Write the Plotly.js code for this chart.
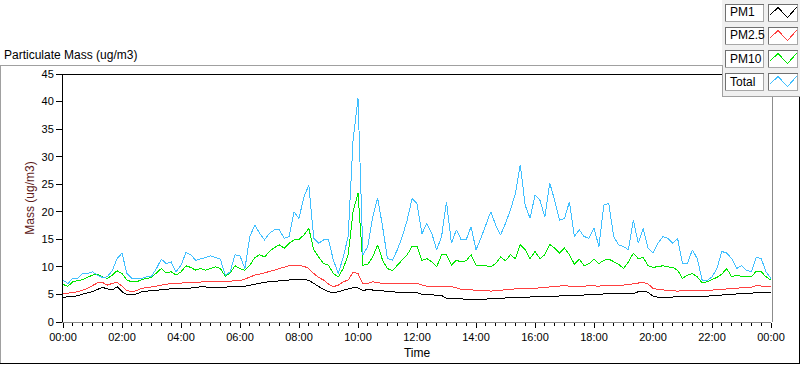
<!DOCTYPE html>
<html><head><meta charset="utf-8">
<script src="https://cdn.plot.ly/plotly-3.0.1.min.js"></script>
<style>html,body{margin:0;padding:0;background:#fff;overflow:hidden}#chart{width:800px;height:365px}
#chart .scatterlayer path.js-line{shape-rendering:crispEdges}
#chart .shapelayer path{shape-rendering:crispEdges}</style>
</head><body><div id="chart"></div>
<script>
// ---- data (one sample every 10 minutes, 00:00 .. 24:00) ----
const seriesNames = ['PM1', 'PM2.5', 'PM10', 'Total'];
const sampleStepMinutes = 10;
const tickLabelsEvery2h = ['00:00','02:00','04:00','06:00','08:00','10:00','12:00','14:00','16:00','18:00','20:00','22:00','00:00'];

const pm1 = [
 4.5,4.5,4.6,4.8,5.1,5.3, 5.5,5.9,6.3,6.0,5.8,6.4, 5.5,5.0,4.9,5.1,5.5,5.6, 5.7,5.8,5.9,6.0,6.1,6.1,
 6.1,6.1,6.2,6.2,6.4,6.3, 6.3,6.3,6.3,6.3,6.3,6.3, 6.4,6.5,6.7,6.9,7.1,7.2, 7.3,7.4,7.5,7.5,7.6,7.7,
 7.7,7.7,7.6,7.0,6.4,5.9, 5.5,5.3,5.5,5.8,6.0,6.2, 6.2,5.7,5.9,5.8,5.7,5.6, 5.5,5.5,5.4,5.4,5.3,5.3,
 5.3,5.0,5.0,4.9,4.9,4.8, 4.3,4.3,4.2,4.2,4.1,4.1, 4.1,4.1,4.1,4.1,4.2,4.3, 4.4,4.4,4.5,4.5,4.5,4.5,
 4.5,4.5,4.6,4.6,4.7,4.7, 4.7,4.7,4.8,4.8,4.9,4.9, 5.0,5.0,5.1,5.1,5.1,5.1, 5.1,5.1,5.1,5.5,5.6,5.4,
 4.7,4.5,4.5,4.5,4.5,4.5, 4.5,4.6,4.6,4.6,4.6,4.7, 4.7,4.8,4.9,4.9,5.0,5.1, 5.2,5.2,5.2,5.4,5.3,5.4,
 5.4];
const pm25 = [
 5.2,5.2,5.3,5.5,5.8,6.1, 6.6,7.1,7.2,6.7,7.0,7.2, 6.5,5.7,5.5,5.7,6.1,6.2, 6.4,6.5,6.7,6.9,7.0,7.0,
 7.1,7.1,7.2,7.2,7.3,7.3, 7.3,7.3,7.3,7.4,7.4,7.5, 7.5,7.8,8.2,8.5,8.7,8.9, 9.1,9.4,9.7,10.0,10.2,10.3,
 10.3,10.1,9.7,8.8,8.1,7.6, 6.9,6.4,6.7,7.3,7.6,9.0, 8.8,6.9,7.0,7.3,7.1,7.0, 7.0,7.0,6.9,6.9,7.0,7.0,
 7.0,6.7,6.5,6.5,6.5,6.5, 6.4,6.4,6.2,5.9,5.9,5.8, 5.8,5.7,5.7,5.6,5.7,5.8, 5.9,6.0,6.0,6.0,6.0,6.0,
 6.1,6.2,6.3,6.4,6.5,6.6, 6.6,6.5,6.5,6.4,6.5,6.6, 6.5,6.5,6.6,6.6,6.7,6.7, 6.7,6.8,6.9,7.1,7.2,6.9,
 6.1,5.9,5.8,5.7,5.6,5.6, 5.7,5.7,5.7,5.6,5.6,5.7, 5.8,5.8,5.9,6.0,6.1,6.1, 6.2,6.2,6.3,6.6,6.5,6.4,
 6.4];
const pm10 = [
 6.8,6.5,7.3,7.5,7.7,8.1, 8.5,8.7,8.2,7.9,8.5,9.3, 8.8,7.6,7.3,7.3,7.7,7.9, 8.1,8.9,9.7,8.9,9.1,8.5,
 9.1,10.2,9.9,9.4,9.7,9.4, 9.7,10.0,9.7,8.3,8.9,10.2, 9.7,9.4,10.3,11.7,12.2,11.8, 12.8,13.5,14.0,13.4,14.3,14.9,
 15.0,15.8,17.0,13.1,11.8,10.6, 10.3,8.8,8.2,9.7,12.2,20.0, 23.4,10.3,10.5,11.8,14.0,11.2, 9.7,9.3,10.3,11.2,12.2,13.7,
 13.7,11.2,11.5,10.9,10.0,12.2, 12.2,10.3,11.2,10.9,11.1,12.2, 10.3,10.2,10.2,10.0,10.6,11.8, 11.1,12.2,11.5,14.0,13.1,11.5,
 12.8,11.5,12.2,14.1,13.4,12.5, 13.4,12.2,10.5,11.4,10.2,10.6, 11.4,10.6,11.2,11.4,10.9,10.5, 9.7,10.9,12.5,11.5,11.7,10.2,
 9.9,10.0,10.2,10.0,9.9,9.4, 7.9,8.5,8.8,8.2,7.1,7.3, 7.7,8.1,8.7,9.7,8.2,8.5, 8.3,8.2,8.2,9.2,9.1,8.2,
 7.6];
const total = [
 7.6,7.0,7.9,7.9,8.8,8.8, 9.1,8.5,8.1,8.2,9.3,11.5, 12.5,8.8,7.9,7.9,7.9,8.2, 8.3,9.7,11.4,10.6,10.9,9.1,
 10.3,12.6,12.2,11.2,11.4,11.7, 12.0,11.7,11.4,8.5,9.1,12.2, 12.0,9.7,15.5,17.6,16.1,14.9, 16.1,16.7,16.7,15.2,15.5,20.0,
 18.8,22.7,24.8,15.2,14.3,14.9, 14.9,11.2,8.8,11.8,15.5,33.0, 40.6,12.2,13.7,19.1,22.5,17.3, 11.5,11.2,13.1,15.5,18.5,22.4,
 21.5,16.0,17.9,16.1,13.1,15.5, 21.8,14.3,16.7,14.9,14.9,17.3, 13.1,15.2,17.6,20.0,17.6,15.8, 17.9,20.3,23.3,28.5,21.2,18.8,
 23.0,22.1,19.1,25.2,22.1,18.5, 18.8,21.8,15.5,16.7,15.5,15.2, 17.0,13.7,21.2,21.5,15.5,14.0, 13.7,13.1,18.5,14.3,17.0,13.4,
 12.5,14.3,15.5,15.2,14.3,15.2, 10.6,10.6,13.1,11.5,7.6,7.5, 8.2,9.7,12.8,12.5,11.5,9.7, 10.2,9.4,9.1,11.8,11.5,9.1,
 7.9];

// ---- layout constants ----
const FONT = '"Liberation Sans", Arial, sans-serif';
const L = 63, R = 771, T = 74, B = 322;
const base = Date.UTC(2000, 0, 1);
const times = pm1.map((_, i) => base + i * sampleStepMinutes * 60000);
const colors = ['#000000', '#ff4040', '#00e800', '#40bfff'];
const seriesData = [pm1, pm25, pm10, total];

const px = x => (x - L) / (R - L);
const py = y => (B - y) / (B - T);
function line(x0, y0, x1, y1, color) {
  return {type:'line', xref:'paper', yref:'paper', x0:px(x0), y0:py(y0), x1:px(x1), y1:py(y1),
          line:{color:color, width:1}, layer:'above'};
}
function rect(x0, y0, x1, y1, fill, lc) {
  return {type:'rect', xref:'paper', yref:'paper', x0:px(x0), y0:py(y0), x1:px(x1), y1:py(y1),
          fillcolor:fill, line:{color:lc || fill, width: lc ? 1 : 0}, layer:'above'};
}

const traces = seriesData.map((ys, k) => ({
  type:'scatter', mode:'lines', name:seriesNames[k], x:times, y:ys,
  line:{color:colors[k], width:1}, hoverinfo:'skip', showlegend:false
}));

const shapes = [
  line(0, 65.5, 722, 65.5, '#a0a0a0'),   // outer frame top
  line(0.5, 65, 0.5, 364, '#a0a0a0'),    // outer frame left
  line(0, 363.5, 800, 363.5, '#000000'), // outer frame bottom
  line(799.5, 96, 799.5, 364, '#000000'),// outer frame right
  line(L, 74.5, 722, 74.5, '#000000'),   // plot top
  line(772, 96, 772, B, '#8c8c8c'),      // plot right
  rect(722, -2, 802, 96, '#f0f0f0'),     // legend panel
  line(722, 65, 722, 96.5, '#a0a0a0'),
  line(722, 96.5, 800, 96.5, '#a0a0a0')
];
const annotations = [];
const rowTops = [4, 27, 50, 73];
seriesNames.forEach((name, k) => {
  const t = rowTops[k];
  shapes.push(rect(725.5, t, 763.5, t + 17, '#ffffff', '#a8a8a8'));
  shapes.push(line(725.5, t, 763.5, t, '#707070'));
  shapes.push(line(725.5, t, 725.5, t + 17, '#707070'));
  shapes.push(rect(768.5, t, 797.5, t + 17, '#ffffff', '#a8a8a8'));
  shapes.push(line(768.5, t, 797.5, t, '#707070'));
  shapes.push(line(768.5, t, 768.5, t + 17, '#707070'));
  shapes.push({type:'path', xref:'paper', yref:'paper', layer:'above', line:{color:colors[k], width:1},
    path:`M ${px(770)} ${py(t+11)} L ${px(778)} ${py(t+3.5)} L ${px(787.5)} ${py(t+13.5)} L ${px(796.5)} ${py(t+3.5)}`});
  annotations.push({xref:'paper', yref:'paper', x:px(727.5), y:py(t + 8.5), xanchor:'left', yanchor:'middle',
    text:name, showarrow:false, font:{family:FONT, size:12, color:'#000'}});
});

const layout = {
  width:800, height:365, paper_bgcolor:'#ffffff', plot_bgcolor:'#ffffff',
  margin:{l:L, r:800 - R, t:T, b:365 - B, pad:0},
  font:{family:FONT, size:11, color:'#000'},
  title:{text:'Particulate Mass (ug/m3)', xref:'container', yref:'container', x:4/800, xanchor:'left',
         y:1 - 55/365, yanchor:'middle', font:{family:FONT, size:12, color:'#000'}},
  showlegend:false,
  xaxis:{type:'date', range:[base, base + 86400000], tick0:base, dtick:7200000, tickformat:'%H:%M',
         ticks:'outside', ticklen:5, tickcolor:'#000', tickwidth:1,
         minor:{dtick:1200000, ticks:'outside', ticklen:3, tickcolor:'#000', showgrid:false},
         showline:true, linecolor:'#8c8c8c', linewidth:1, showgrid:false, zeroline:false, automargin:false,
         tickfont:{family:FONT, size:11, color:'#000'},
         title:{text:'Time', font:{family:FONT, size:12, color:'#000'}, standoff:6}},
  yaxis:{range:[0, 45], dtick:5, ticks:'outside', ticklen:6, tickcolor:'#000', tickwidth:1,
         showline:true, linecolor:'#000', linewidth:1, showgrid:false, zeroline:false, automargin:false,
         tickfont:{family:FONT, size:11, color:'#000'},
         title:{text:'Mass (ug/m3)', font:{family:FONT, size:12, color:'#5c1a1a'}, standoff:4}},
  shapes:shapes, annotations:annotations
};
Plotly.newPlot('chart', traces, layout, {staticPlot:true, displayModeBar:false});
</script></body></html>
